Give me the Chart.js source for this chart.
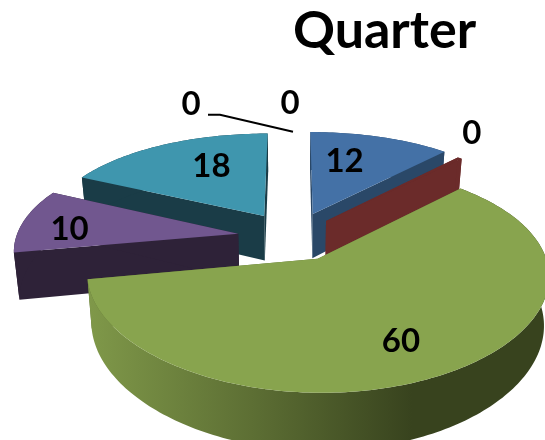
<!DOCTYPE html>
<html>
<head>
<meta charset="utf-8">
<title>Quarter</title>
<script src="https://cdn.jsdelivr.net/npm/chart.js@4"></script>
<style>
html,body{margin:0;padding:0;background:#fff;}
canvas{display:block;}
</style>
</head>
<body>
<canvas id="chart" width="545" height="440"></canvas>
<script>
const chartTitle = 'Quarter';
const categories = ['Q1','Q2','Q3','Q4','Q5','Q6','Q7'];
const values = [12, 0.4, 60, 10, 18, 0, 0];
const valueLabels = ['12','0','60','10','18','0','0'];

const topColors = ['#4471a6','#6b2b2a','#88a44e','#71578f','#3f96ae','#d9853b','#8aa8d0'];
const wallColors = ['#2a4868','#6b2b2a','#5a6d32','#2e2238','#1a3c47','#8a5020','#5a6e8a'];

// perspective of the pie plane
const view = {cx:293, cy:237, a:222, b:103, px:0.14, py:0.17, depth:46, taper:0.98};
// how far each slice is pulled out of the pie
const explode = [0.25, 0.22, 0.23, 0.25, 0.25, 0.25, 0.25];
// where each value label goes: radius along the slice middle, plus a nudge in px
const labelPos = [
    {r:0.62, dx:-12, dy:-2},
    {r:1.0, dx:12, dy:-25},
    {r:0.62, dx:9, dy:16},
    {r:0.62, dx:-35, dy:4},
    {r:0.62, dx:12, dy:-3},
    {r:1.0, dx:-102, dy:-26},
    {r:1.0, dx:-3, dy:-27}
];

function project(u, v){
    const sx = 1/(1 - view.px*v);
    const sy = 1/(1 - view.py*v);
    return {x:view.cx + view.a*u*sx, y:view.cy + view.b*v*sy, s:sy};
}

// point on a slice, theta is clockwise from the top
function slicePoint(i, mid, theta, r){
    const u = Math.sin(mid)*explode[i] + Math.sin(theta)*r;
    const v = -Math.cos(mid)*explode[i] - Math.cos(theta)*r;
    return project(u, v);
}

function poly(ctx, pts, fill){
    ctx.beginPath();
    pts.forEach((p,i)=>{ i ? ctx.lineTo(p.x,p.y) : ctx.moveTo(p.x,p.y); });
    ctx.closePath();
    ctx.fillStyle = fill;
    ctx.fill();
}

function down(p){
    return {x:view.cx + (p.x-view.cx)*view.taper, y:p.y + view.depth*p.s};
}

function drawSlice(ctx, arc, i){
    const start = arc.startAngle + Math.PI/2;
    const end = arc.endAngle + Math.PI/2;
    if(end - start <= 0) return;
    const mid = (start+end)/2;
    const apex = slicePoint(i, mid, 0, 0);
    const rim = [];
    const steps = Math.max(2, Math.ceil((end-start)/0.02));
    for(let k=0;k<=steps;k++){
        rim.push(slicePoint(i, mid, start + (end-start)*k/steps, 1));
    }
    const first = rim[0], last = rim[rim.length-1];
    poly(ctx, [apex, first, down(first), down(apex)], wallColors[i]);
    poly(ctx, [apex, last, down(last), down(apex)], wallColors[i]);
    let wallFill = wallColors[i];
    if(i === 2){
        const grad = ctx.createLinearGradient(90,0,412,0);
        grad.addColorStop(0,'#7f9849');
        grad.addColorStop(0.5,'#5d6f34');
        grad.addColorStop(1,'#38431e');
        wallFill = grad;
    }
    poly(ctx, rim.concat(rim.slice().reverse().map(down)), wallFill);
    poly(ctx, [apex].concat(rim), topColors[i]);
}

const pie3d = {
    id:'pie3d',
    beforeDatasetDraw(chart){
        const ctx = chart.ctx;
        const arcs = chart.getDatasetMeta(0).data;
        const order = arcs.map((a,i)=>i).sort((m,n)=>{
            const midM = (arcs[m].startAngle+arcs[m].endAngle)/2 + Math.PI/2;
            const midN = (arcs[n].startAngle+arcs[n].endAngle)/2 + Math.PI/2;
            return Math.cos(midN) - Math.cos(midM);
        });
        order.forEach(i=>drawSlice(ctx, arcs[i], i));
        return false;
    },
    afterDatasetsDraw(chart){
        const ctx = chart.ctx;
        const arcs = chart.getDatasetMeta(0).data;
        ctx.save();
        ctx.fillStyle = '#000';
        ctx.font = 'bold 33px Lato';
        ctx.textAlign = 'center';
        ctx.textBaseline = 'middle';
        const spots = arcs.map((arc,i)=>{
            const mid = (arc.startAngle+arc.endAngle)/2 + Math.PI/2;
            const p = slicePoint(i, mid, mid, labelPos[i].r);
            return {x:p.x+labelPos[i].dx, y:p.y+labelPos[i].dy};
        });
        spots.forEach((p,i)=>ctx.fillText(valueLabels[i], p.x, p.y));
        // leader line of the first zero label
        const a = spots[5];
        ctx.strokeStyle = '#000';
        ctx.lineWidth = 2;
        ctx.beginPath();
        ctx.moveTo(a.x+17, a.y+10);
        ctx.lineTo(a.x+29, a.y+10);
        ctx.lineTo(a.x+102, a.y+27);
        ctx.stroke();
        ctx.restore();
    }
};

new Chart(document.getElementById('chart'),{
    type:'pie',
    data:{
        labels:categories,
        datasets:[{data:values, backgroundColor:topColors, borderWidth:0}]
    },
    options:{
        responsive:false,
        animation:false,
        layout:{padding:{left:224}},
        plugins:{
            legend:{display:false},
            tooltip:{enabled:false},
            title:{
                display:true,
                text:chartTitle,
                color:'#000',
                font:{family:'Lato',size:52,weight:'bold'},
                padding:{top:0,bottom:10}
            }
        }
    },
    plugins:[pie3d]
});
</script>
</body>
</html>
